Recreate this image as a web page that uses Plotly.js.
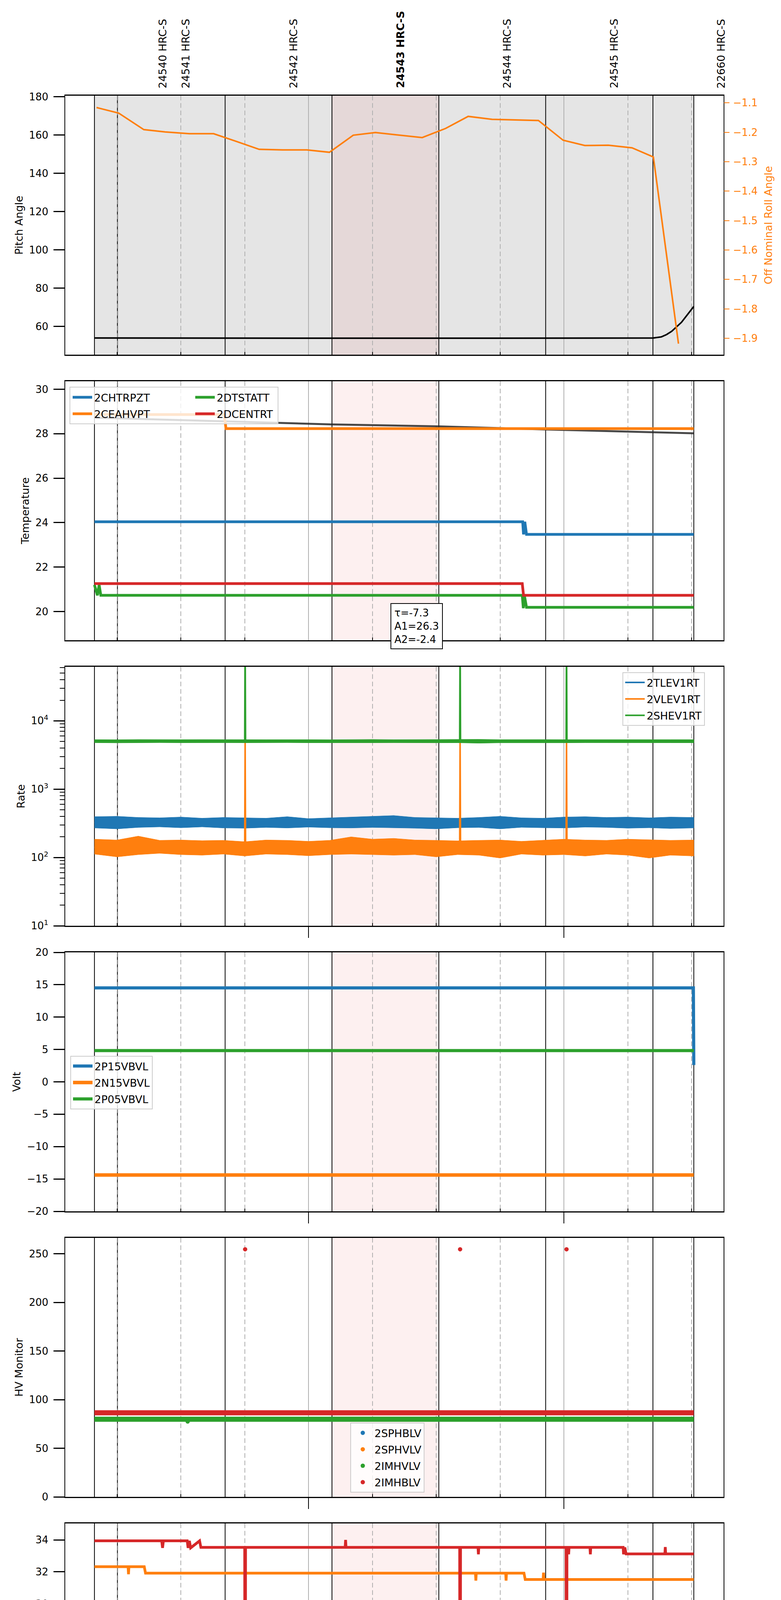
<!DOCTYPE html>
<html>
<head>
<meta charset="utf-8">
<title>HRC-S 2021-04-04 (094)</title>
<script src="https://cdn.plot.ly/plotly-3.0.1.min.js"></script>
<style>
  body { margin: 0; background: #fff; }
  #plot { width: 2000px; height: 5400px; }
</style>
</head>
<body>
<div id="plot"></div>
<script>
// times are minutes after 16:00 on 2021-04-04 (day 094)
const DAY = '2021-04-04';

// observations
const obsStart = [9.7, 15.1, 40.4, 65.5, 90.6, 115.7, 140.9];
const obsEnd = 150.5;
const obsLabels = ['24540 HRC-S', '24541 HRC-S', '24542 HRC-S', '24543 HRC-S', '24544 HRC-S', '24545 HRC-S', '22660 HRC-S'];
const focusObs = 3;

// time axis ticks
const hourTicks = [60, 120];
const hourText = ['17h', '18h'];
const quarterTicks = [15, 30, 45, 75, 90, 105, 135, 150];
const quarterText = ['15', '30', '45', '15', '30', '45', '15', '30'];

// panel 1 : pitch / roll
const pitch = [[9.7, 54.0], [65.5, 53.9], [90.6, 53.9], [141.0, 54.0], [142.9, 54.6], [144.1, 55.8], [145.3, 57.5], [147.6, 62.2], [150.5, 70.5]];
const roll = [[10.2, -1.116], [15.4, -1.135], [21.3, -1.191], [26.3, -1.199], [32.0, -1.205], [37.7, -1.205], [43.0, -1.231],
  [48.4, -1.258], [53.9, -1.260], [59.6, -1.260], [64.9, -1.268], [70.5, -1.210], [75.7, -1.201], [81.3, -1.209],
  [86.7, -1.218], [92.2, -1.187], [97.5, -1.146], [103.1, -1.156], [108.7, -1.158], [114.0, -1.160], [119.8, -1.227],
  [124.9, -1.245], [130.4, -1.244], [136.0, -1.253], [141.0, -1.284], [146.9, -1.918]];

// panel 2 : temperature
const tempFit = [[9.7, 28.72], [40.4, 28.55], [65.5, 28.42], [90.6, 28.33], [115.7, 28.19], [150.5, 28.02]];
const chtrpzt = [[9.7, 24.04], [110.3, 24.04], [110.5, 23.47], [110.8, 24.04], [111.2, 23.47], [150.5, 23.47]];
const ceahvpt = [[9.7, 28.86], [40.2, 28.86], [40.6, 28.23], [150.5, 28.23]];
const dtstatt = [[9.7, 21.2], [10.4, 20.73], [10.8, 21.2], [11.2, 20.73], [110.2, 20.73], [110.45, 20.15], [110.7, 20.73], [111.2, 20.19], [150.5, 20.19]];
const dcentrt = [[9.7, 21.26], [110.2, 21.26], [110.5, 20.73], [150.5, 20.73]];
const fitText = ['τ=-7.3', 'A1=26.3', 'A2=-2.4'];

// panel 3 : rates (noise envelope + level with spikes)
const bandT = [9.7, 15, 20, 25, 30, 35, 40, 45, 50, 55, 60, 65, 70, 75, 80, 85, 90, 95, 100, 105, 110, 115, 120, 125, 130, 135, 140, 145, 150.5];
const tlevUp = [395, 400, 385, 380, 390, 375, 385, 380, 375, 395, 370, 380, 390, 400, 410, 385, 380, 375, 385, 400, 380, 375, 390, 395, 385, 390, 380, 390, 385];
const tlevLo = [270, 262, 275, 280, 272, 280, 270, 268, 275, 270, 278, 272, 270, 275, 272, 268, 262, 272, 275, 262, 276, 272, 270, 278, 275, 268, 272, 265, 270];
const vlevUp = [185, 180, 205, 178, 180, 176, 178, 170, 180, 178, 172, 178, 200, 185, 190, 180, 178, 175, 178, 180, 172, 178, 185, 180, 178, 185, 182, 178, 180];
const vlevLo = [112, 102, 110, 115, 110, 108, 112, 105, 112, 110, 106, 110, 112, 110, 108, 110, 102, 110, 108, 98, 112, 108, 110, 105, 112, 108, 98, 108, 105];
const shevUp = [5300, 5280, 5320, 5290, 5300, 5310, 5280, 5300, 5290, 5320, 5300, 5280, 5300, 5330, 5290, 5300, 5310, 5290, 5350, 5300, 5280, 5310, 5300, 5290, 5300, 5320, 5290, 5300, 5300];
const shevLo = [4780, 4750, 4760, 4790, 4770, 4760, 4780, 4770, 4760, 4790, 4770, 4780, 4760, 4770, 4780, 4790, 4760, 4770, 4700, 4760, 4780, 4770, 4760, 4780, 4770, 4760, 4780, 4770, 4770];
const tlevMid = [[9.7, 325], [150.5, 325]];
const vlevMid = [[9.7, 140], [45.0, 140], [45.1, 5000], [45.2, 140], [95.5, 140], [95.6, 5000], [95.7, 140], [120.5, 140], [120.6, 5000], [120.7, 140], [150.5, 140]];
const shevMid = [[9.7, 5040], [45.0, 5040], [45.1, 200000], [45.2, 5040], [95.5, 5040], [95.6, 200000], [95.7, 5040], [120.5, 5040], [120.6, 200000], [120.7, 5040], [150.5, 5040]];

// panel 4 : voltages
const p15vbvl = [[9.7, 14.51], [150.4, 14.51], [150.5, 2.6]];
const n15vbvl = [[9.7, -14.39], [150.5, -14.39]];
const p05vbvl = [[9.7, 4.83], [150.5, 4.83]];

// panel 5 : HV monitor (dense samples form the bands, outliers as dots)
const imhblvBand = [[9.7, 86.5], [150.5, 86.5]];
const imhblvDots = [[45.1, 254.6], [95.6, 254.6], [120.6, 254.6]];
const imhvlvBand = [[9.7, 79.8], [150.5, 79.8]];
const imhvlvDots = [[31.6, 77.5]];

// panel 6 : detector temperatures
const spinatm = [[9.7, 21.0], [34.7, 21.0], [34.8, 20.25], [34.9, 21.0], [38.8, 21.0], [38.9, 20.3], [39.3, 21.0], [39.6, 20.3], [40.0, 21.0],
  [40.4, 20.3], [41.0, 21.0], [41.6, 20.3], [42.2, 21.0], [42.8, 20.3], [43.3, 21.0], [43.5, 20.3], [150.5, 20.3]];
const sphvatm = [[9.7, 32.32], [17.6, 32.32], [17.7, 31.85], [17.8, 32.32], [21.4, 32.32], [21.7, 31.92], [99.2, 31.92], [99.3, 31.45], [99.4, 31.92],
  [106.3, 31.92], [106.4, 31.45], [106.5, 31.92], [110.6, 31.92], [110.9, 31.52], [111.2, 31.52], [115.1, 31.52], [115.2, 31.95], [115.3, 31.52], [150.5, 31.52]];
const iminatm = [[9.7, 20.99], [150.5, 20.99]];
const imhvatm = [[9.7, 33.94], [25.5, 33.94], [25.7, 33.5], [25.9, 33.94], [31.5, 33.94], [31.7, 33.5], [32.0, 33.94], [32.3, 33.5], [34.4, 33.94],
  [34.7, 33.53], [45.0, 33.53], [45.1, 0], [45.2, 33.53], [68.6, 33.53], [68.7, 34.0], [68.8, 33.53], [95.5, 33.53], [95.6, 0], [95.7, 33.53],
  [99.8, 33.53], [99.9, 33.1], [100.0, 33.53], [120.5, 33.53], [120.6, 0], [120.7, 33.53], [121.0, 33.53], [121.1, 33.1], [121.2, 33.53],
  [126.1, 33.53], [126.2, 33.1], [126.3, 33.53], [133.9, 33.53], [134.0, 33.1], [134.3, 33.53], [134.6, 33.12], [143.7, 33.12], [143.8, 33.55],
  [143.9, 33.12], [150.5, 33.12]];

// panel 7 : FEA temperatures
const fhtrmzt = [[9.7, 22.35], [10.0, 21.85], [10.3, 22.35], [10.6, 21.82], [10.9, 22.35], [11.1, 21.82], [114.4, 21.82], [114.7, 21.27], [150.5, 21.27]];
const fradpyt = [[9.7, 16.68], [64.8, 16.68], [65.1, 16.19], [150.5, 16.19]];
const fepratm = [[9.7, 23.88], [45.0, 23.88], [45.1, 0], [45.2, 23.88], [84.1, 23.88], [84.3, 23.14], [84.6, 23.88], [84.9, 23.14], [85.2, 23.88],
  [85.5, 23.14], [85.8, 23.88], [86.1, 23.14], [86.4, 23.88], [86.7, 23.14], [87.0, 23.88], [87.5, 23.14], [95.5, 23.14], [95.6, 0], [95.7, 23.14],
  [99.7, 23.14], [99.8, 23.9], [99.9, 23.14], [120.5, 23.14], [120.6, 0], [120.7, 23.14], [150.5, 23.14]];
const fe00atm = [[9.7, 22.03], [27.4, 22.03], [27.5, 21.7], [27.6, 22.03], [28.8, 22.03], [28.9, 21.7], [29.0, 22.03], [45.0, 22.03], [45.1, 0],
  [45.2, 22.03], [49.2, 22.03], [49.5, 21.72], [49.8, 22.03], [50.1, 21.72], [50.4, 22.03], [50.7, 21.72], [51.0, 22.03], [51.3, 21.72],
  [51.6, 22.03], [51.9, 21.72], [56.2, 21.72], [56.3, 22.35], [56.4, 21.72], [69.5, 21.72], [69.6, 22.05], [69.7, 21.72], [82.1, 21.72],
  [82.2, 22.05], [82.3, 21.72], [83.3, 21.72], [83.4, 22.05], [83.5, 21.72], [84.1, 21.72], [84.2, 22.7], [84.3, 21.72], [87.4, 21.72],
  [87.5, 21.05], [87.6, 21.72], [90.1, 21.72], [90.2, 22.7], [90.3, 21.72], [95.5, 21.72], [95.6, 0], [95.7, 21.72], [103.9, 21.72],
  [104.0, 21.35], [104.1, 21.72], [106.8, 21.72], [106.9, 22.05], [107.0, 21.72], [111.6, 21.72], [111.7, 21.35], [111.8, 21.72],
  [120.5, 21.72], [120.6, 0], [120.7, 21.72], [121.6, 21.72], [121.7, 20.7], [121.8, 21.72], [129.3, 21.72], [129.4, 21.35], [129.5, 21.72],
  [131.6, 21.72], [131.9, 21.39], [132.2, 21.72], [132.5, 21.39], [132.8, 21.72], [133.1, 21.39], [133.4, 21.72], [133.7, 21.39],
  [134.0, 21.72], [134.3, 21.39], [134.6, 21.72], [135.0, 21.39], [138.1, 21.39], [138.2, 21.05], [138.3, 21.39], [140.3, 21.39],
  [140.4, 22.7], [140.5, 21.39], [144.6, 21.39], [144.7, 21.05], [144.8, 21.39], [148.1, 21.39], [148.2, 22.7], [148.3, 21.39], [150.5, 21.39]];

// ---- layout geometry ----
const W = 2000, H = 5400;
const PANEL_TOP = [245, 976, 1707, 2438, 3169, 3900, 4631];
const PANEL_H = 663;
const X0 = 167, X1 = 1853;
const BLUE = '#1f77b4', ORANGE = '#ff7f0e', GREEN = '#2ca02c', RED = '#d62728';

const pad = n => String(n).padStart(2, '0');
function ts(m) {
  const s = Math.round(m * 60);
  return `${DAY} ${pad(16 + Math.floor(s / 3600))}:${pad(Math.floor(s % 3600 / 60))}:${pad(s % 60)}`;
}
const sfx = i => (i === 1 ? '' : String(i));
const px = v => v / W;
const py = v => 1 - v / H;

function line(pts, name, color, panel, width, extra) {
  return Object.assign({
    x: pts.map(p => ts(p[0])), y: pts.map(p => p[1]),
    xaxis: 'x' + sfx(panel), yaxis: 'y' + sfx(panel),
    type: 'scatter', mode: 'lines', name: name,
    line: { color: color, width: width },
    legend: 'legend' + sfx(panel), legendgroup: name
  }, extra || {});
}
function band(t, up, lo, color, panel, group) {
  return {
    x: t.map(ts).concat(t.slice().reverse().map(ts)),
    y: up.concat(lo.slice().reverse()),
    xaxis: 'x' + sfx(panel), yaxis: 'y' + sfx(panel),
    type: 'scatter', mode: 'lines', fill: 'toself', fillcolor: color,
    line: { color: color, width: 1 }, showlegend: false, legend: 'legend' + sfx(panel),
    legendgroup: group, hoverinfo: 'skip'
  };
}
function dots(pts, name, color, panel) {
  return {
    x: pts.length ? pts.map(p => ts(p[0])) : [ts(0)], y: pts.length ? pts.map(p => p[1]) : [null],
    xaxis: 'x' + sfx(panel), yaxis: 'y' + sfx(panel),
    type: 'scatter', mode: 'markers', name: name,
    marker: { color: color, size: 11 }, legend: 'legend' + sfx(panel), legendgroup: name
  };
}

const traces = [
  // panel 1
  line(pitch, 'Pitch', '#000000', 1, 4, { showlegend: false }),
  line(roll, 'Roll', ORANGE, 1, 4, { yaxis: 'y8', showlegend: false }),
  // panel 2 (two legend columns)
  line(tempFit, 'fit', 'rgba(40,40,40,0.85)', 2, 5, { showlegend: false, legend: 'legend' }),
  line(chtrpzt, '2CHTRPZT', BLUE, 2, 7, { legend: 'legend' }),
  line(ceahvpt, '2CEAHVPT', ORANGE, 2, 7, { legend: 'legend' }),
  line(dtstatt, '2DTSTATT', GREEN, 2, 7, { legend: 'legend2' }),
  line(dcentrt, '2DCENTRT', RED, 2, 7, { legend: 'legend2' }),
  // panel 3
  band(bandT, tlevUp, tlevLo, BLUE, 3, '2TLEV1RT'),
  line(tlevMid, '2TLEV1RT', BLUE, 3, 4),
  band(bandT, vlevUp, vlevLo, ORANGE, 3, '2VLEV1RT'),
  line(vlevMid, '2VLEV1RT', ORANGE, 3, 4),
  band(bandT, shevUp, shevLo, GREEN, 3, '2SHEV1RT'),
  line(shevMid, '2SHEV1RT', GREEN, 3, 4),
  // panel 4
  line(p15vbvl, '2P15VBVL', BLUE, 4, 8),
  line(n15vbvl, '2N15VBVL', ORANGE, 4, 9),
  line(p05vbvl, '2P05VBVL', GREEN, 4, 8),
  // panel 5
  dots([], '2SPHBLV', BLUE, 5),
  dots([], '2SPHVLV', ORANGE, 5),
  line(imhvlvBand, '2IMHVLV', GREEN, 5, 13, { showlegend: false }),
  dots(imhvlvDots, '2IMHVLV', GREEN, 5),
  line(imhblvBand, '2IMHBLV', RED, 5, 13, { showlegend: false }),
  dots(imhblvDots, '2IMHBLV', RED, 5),
  // panel 6
  line(spinatm, '2SPINATM', BLUE, 6, 7),
  line(sphvatm, '2SPHVATM', ORANGE, 6, 7),
  line(iminatm, '2IMINATM', GREEN, 6, 7),
  line(imhvatm, '2IMHVATM', RED, 6, 7),
  // panel 7
  line(fhtrmzt, '2FHTRMZT', BLUE, 7, 7),
  line(fradpyt, '2FRADPYT', ORANGE, 7, 7),
  line(fepratm, '2FEPRATM', GREEN, 7, 7),
  line(fe00atm, '2FE00ATM', RED, 7, 7),
  // empty carrier so the minute-label axis is drawn
  { x: quarterTicks.map(ts), y: quarterTicks.map(() => null), xaxis: 'x8', yaxis: 'y7',
    type: 'scatter', mode: 'lines', showlegend: false, hoverinfo: 'skip' }
];

const layout = {
  width: W, height: H,
  margin: { l: 0, r: 0, t: 0, b: 0 },
  paper_bgcolor: '#ffffff', plot_bgcolor: '#ffffff',
  font: { family: 'DejaVu Sans', size: 26, color: '#000000' },
  shapes: [], annotations: []
};

const yTitles = ['Pitch Angle', 'Temperature', 'Rate', 'Volt', 'HV Monitor', 'Detector Temp', 'FEA Temp'];
const yRanges = [[45.3, 180.5], [18.71, 30.36], [1, 4.79], [-20, 20], [0, 266.3], [18.82, 35.03], [14.69, 25.39]];
const yDticks = [20, 2, null, 5, 50, 2, 2];

for (let i = 1; i <= 7; i++) {
  const top = PANEL_TOP[i - 1];
  const dom = [py(top + PANEL_H), py(top)];
  layout['xaxis' + sfx(i)] = {
    type: 'date', domain: [px(X0), px(X1)], anchor: 'y' + sfx(i),
    range: [ts(2.84), ts(157.5)],
    tickmode: 'array', tickvals: hourTicks.map(ts), ticktext: hourText,
    showticklabels: i === 7, tickfont: { size: 28 },
    ticks: 'outside', ticklen: i <= 2 ? 0 : 28, tickwidth: 2, tickcolor: '#000',
    showgrid: true, gridcolor: '#b0b0b0', gridwidth: 2,
    minor: { tickmode: 'array', tickvals: quarterTicks.map(ts), ticks: 'inside', ticklen: 7, tickwidth: 2, tickcolor: '#000',
      showgrid: true, gridcolor: '#b0b0b0', gridwidth: 2, griddash: '12px,7px' },
    showline: true, linewidth: 2.5, linecolor: '#000', mirror: true, zeroline: false
  };
  const ya = {
    domain: dom, anchor: 'x' + sfx(i), range: yRanges[i - 1],
    title: { text: yTitles[i - 1], font: { size: 27 }, standoff: 8 },
    ticks: 'outside', ticklen: 28, tickwidth: 3, tickcolor: '#000', ticklabelstandoff: 8,
    showline: true, linewidth: 2, linecolor: '#000', mirror: true,
    showgrid: false, zeroline: false
  };
  if (i === 3) {
    ya.type = 'log';
    ya.tickmode = 'array';
    ya.tickvals = [10, 100, 1000, 10000];
    ya.ticktext = ['10<sup>1</sup>', '10<sup>2</sup>', '10<sup>3</sup>', '10<sup>4</sup>'];
    const mv = [];
    [10, 100, 1000, 10000].forEach(d => { for (let k = 2; k <= 9; k++) mv.push(d * k); });
    ya.minor = { tickmode: 'array', tickvals: mv, ticks: 'outside', ticklen: 12, tickwidth: 2, tickcolor: '#000' };
  } else {
    ya.dtick = yDticks[i - 1];
    ya.tick0 = 0;
  }
  layout['yaxis' + sfx(i)] = ya;

  // observation highlight + boundaries
  if (i === 1) {
    layout.shapes.push({ type: 'rect', xref: 'x', yref: 'y domain', x0: ts(obsStart[0]), x1: ts(obsEnd), y0: 0, y1: 1,
      fillcolor: '#e5e5e5', line: { width: 0 }, layer: 'below' });
  }
  layout.shapes.push({ type: 'rect', xref: 'x' + sfx(i), yref: 'y' + sfx(i) + ' domain',
    x0: ts(obsStart[focusObs]), x1: ts(obsStart[focusObs + 1]), y0: 0, y1: 1,
    fillcolor: 'rgba(235,90,90,0.09)', line: { width: 0 }, layer: 'below' });
  obsStart.concat([obsEnd]).forEach(t => {
    layout.shapes.push({ type: 'line', xref: 'x' + sfx(i), yref: 'y' + sfx(i) + ' domain',
      x0: ts(t), x1: ts(t), y0: 0, y1: 1, line: { color: '#000', width: 2 }, layer: 'below' });
  });
}

// frame behind the two-column legend of panel 2
layout.shapes.push({ type: 'rect', xref: 'paper', yref: 'paper', x0: px(179), x1: px(712), y0: py(1085), y1: py(991),
  fillcolor: 'rgba(255,255,255,0.8)', line: { color: '#cccccc', width: 2 }, layer: 'above' });

// roll angle on the right of panel 1
const rollTicks = [-1.1, -1.2, -1.3, -1.4, -1.5, -1.6, -1.7, -1.8, -1.9];
layout.yaxis8 = {
  overlaying: 'y', side: 'right', anchor: 'x', range: [-1.9556, -1.0758],
  tickmode: 'array', tickvals: rollTicks, ticktext: rollTicks.map(v => '\u2212' + Math.abs(v).toFixed(1)),
  ticks: 'outside', ticklen: 14, tickwidth: 2, tickcolor: ORANGE, ticklabelstandoff: 4,
  tickfont: { color: ORANGE, size: 26 },
  title: { text: 'Off Nominal Roll Angle', font: { color: ORANGE, size: 27 }, standoff: 18 },
  showgrid: false, zeroline: false, showline: false
};

// minute labels under the bottom panel
layout.xaxis8 = {
  type: 'date', overlaying: 'x7', anchor: 'y7', side: 'bottom',
  range: [ts(2.84), ts(157.5)],
  tickmode: 'array', tickvals: quarterTicks.map(ts), ticktext: quarterText,
  tickfont: { size: 20 }, ticks: '', ticklabelstandoff: 4, showgrid: false, showline: false, zeroline: false
};

// observation labels above panel 1
obsLabels.forEach((lab, k) => {
  layout.annotations.push({
    xref: 'x', yref: 'paper', x: ts(obsStart[k] + 16), y: py(228),
    xanchor: 'center', yanchor: 'bottom', textangle: -90, showarrow: false,
    text: k === focusObs ? '<b>' + lab + '</b>' : lab, font: { size: 27 }
  });
});

// fit parameters box in panel 2
layout.annotations.push({
  xref: 'paper', yref: 'paper', x: px(1000), y: py(1544), xanchor: 'left', yanchor: 'top',
  text: fitText.join('<br>'), align: 'left', showarrow: false, font: { size: 26 },
  bgcolor: '#ffffff', bordercolor: '#000', borderwidth: 2, borderpad: 8
});

// date label
layout.annotations.push({
  xref: 'paper', yref: 'paper', x: px((X0 + X1) / 2), y: py(5384), xanchor: 'center', yanchor: 'middle',
  text: DAY + ' (094)', showarrow: false, font: { size: 31 }
});

// legends
function legendAt(x, y, extra) {
  return Object.assign({
    x: px(x), y: py(y), xanchor: 'left', yanchor: 'top',
    bgcolor: 'rgba(255,255,255,0.8)', bordercolor: '#cccccc', borderwidth: 2,
    font: { size: 27 }, itemwidth: 50, tracegroupgap: 4
  }, extra || {});
}
const clearLegend = { bgcolor: 'rgba(0,0,0,0)', borderwidth: 0 };
layout.legend = legendAt(181, 993, clearLegend);
layout.legend2 = legendAt(495, 993, clearLegend);
layout.legend3 = legendAt(1594, 1721);
layout.legend4 = legendAt(180, 2703);
layout.legend5 = legendAt(897, 3642);
layout.legend6 = legendAt(1590, 4144);
layout.legend7 = legendAt(180, 4874);

Plotly.newPlot('plot', traces, layout, { displayModeBar: false, responsive: false });
</script>
</body>
</html>
